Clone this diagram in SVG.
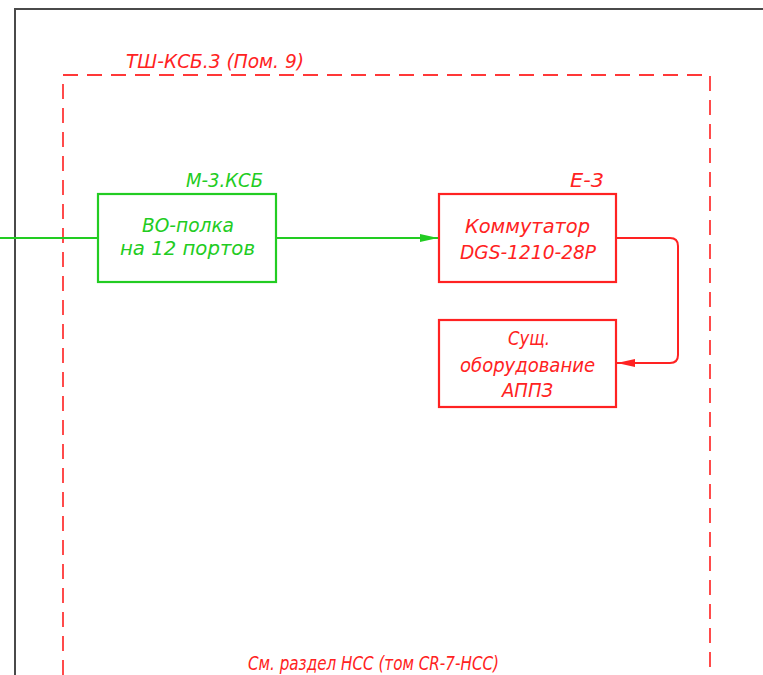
<svg xmlns="http://www.w3.org/2000/svg" width="763" height="675" viewBox="0 0 763 675">
<defs>
<style>
.t{font-family:"DejaVu Sans Condensed","DejaVu Sans","Liberation Sans",sans-serif;font-style:italic;font-size:20px}
.g{fill:#22cc22}
.r{fill:#ff2222}
.box{fill:none;stroke-width:2.2}
</style>
<marker id="ag" viewBox="0 0 18 8" refX="18" refY="4" markerWidth="18" markerHeight="8" markerUnits="userSpaceOnUse" orient="auto"><path d="M0,0 L18,4 L0,8 Z" fill="#22cc22"/></marker>
<marker id="ar" viewBox="0 0 18 8" refX="18" refY="4" markerWidth="18" markerHeight="8" markerUnits="userSpaceOnUse" orient="auto"><path d="M0,0 L18,4 L0,8 Z" fill="#ff2222"/></marker>
</defs>
<rect width="763" height="675" fill="#fff"/>
<g id="frame">
<path d="M15,675 V9 H763" fill="none" stroke="#4a4a4a" stroke-width="2"/>
</g>
<g id="cabinet">
<path d="M63,675 V75 H710 V675" fill="none" stroke="#ff3838" stroke-width="1.8" stroke-dasharray="15,9"/>
<text class="t r" x="126" y="68" textLength="178" lengthAdjust="spacingAndGlyphs" font-size="23">ТШ-КСБ.3 (Пом. 9)</text>
<text class="t r" x="248" y="670" textLength="251" lengthAdjust="spacingAndGlyphs" font-size="18">См. раздел НСС (том CR-7-НСС)</text>
</g>
<g id="connectors">
<path d="M0,238 H98" fill="none" stroke="#22cc22" stroke-width="2"/>
<path d="M276,238 H438" fill="none" stroke="#22cc22" stroke-width="2" marker-end="url(#ag)"/>
<path d="M616,238 H670 Q678,238 678,246 V355 Q678,363 670,363 H617" fill="none" stroke="#ff2222" stroke-width="2" marker-end="url(#ar)"/>
</g>
<g id="node-m3">
<rect class="box" x="98" y="194" width="178" height="88" stroke="#22cc22"/>
<text class="t g" x="186" y="187" textLength="77" lengthAdjust="spacingAndGlyphs">М-3.КСБ</text>
<text class="t g" x="142" y="232" textLength="92" lengthAdjust="spacingAndGlyphs">ВО-полка</text>
<text class="t g" x="120" y="255" textLength="135" lengthAdjust="spacingAndGlyphs">на 12 портов</text>
</g>
<g id="node-e3">
<rect class="box" x="439" y="194" width="177" height="88" stroke="#ff2222"/>
<text class="t r" x="570" y="187" textLength="34" lengthAdjust="spacingAndGlyphs">Е-3</text>
<text class="t r" x="465" y="233" textLength="125" lengthAdjust="spacingAndGlyphs">Коммутатор</text>
<text class="t r" x="460" y="259" textLength="136" lengthAdjust="spacingAndGlyphs">DGS-1210-28P</text>
</g>
<g id="node-appz">
<rect class="box" x="439" y="320" width="177" height="87" stroke="#ff2222"/>
<text class="t r" x="508" y="345" textLength="42" lengthAdjust="spacingAndGlyphs">Сущ.</text>
<text class="t r" x="460" y="372" textLength="135" lengthAdjust="spacingAndGlyphs">оборудование</text>
<text class="t r" x="502" y="397" textLength="51" lengthAdjust="spacingAndGlyphs">АППЗ</text>
</g>
</svg>
